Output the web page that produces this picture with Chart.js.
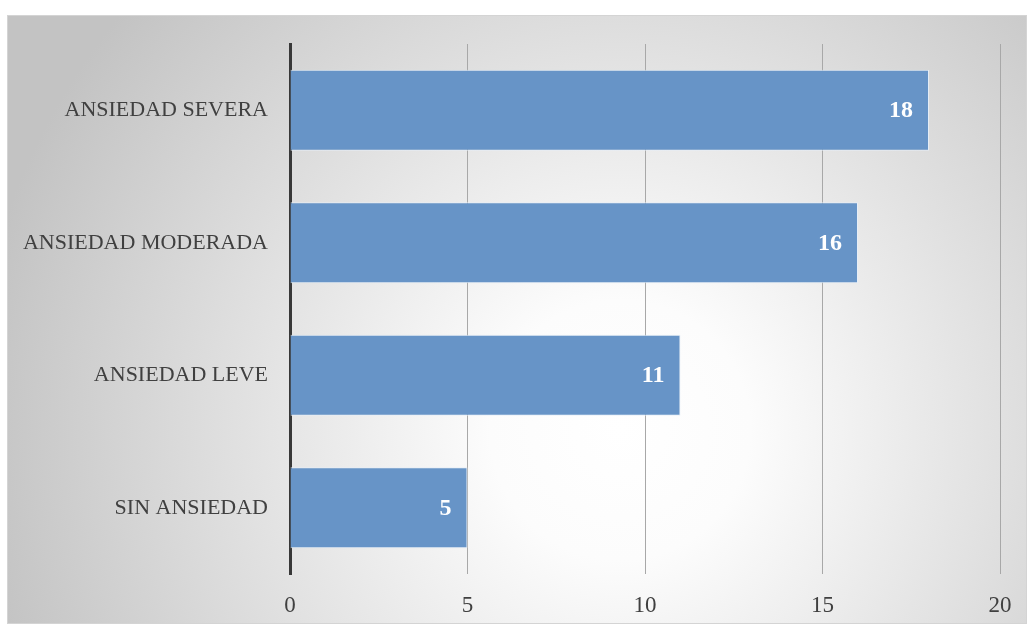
<!DOCTYPE html>
<html>
<head>
<meta charset="utf-8">
<script src="https://cdn.jsdelivr.net/npm/chart.js@4/dist/chart.umd.min.js"></script>
<style>
  html, body { margin: 0; padding: 0; background: #ffffff; }
  #wrap { position: relative; width: 1030px; height: 626px; }
</style>
</head>
<body>
<div id="wrap"><canvas id="c" width="1030" height="626"></canvas></div>
<script>
const categories = ["ANSIEDAD SEVERA", "ANSIEDAD MODERADA", "ANSIEDAD LEVE", "SIN ANSIEDAD"];
const values = [18, 16, 11, 5];
const xTicks = [0, 5, 10, 15, 20];

const FONT = "'Liberation Serif', 'DejaVu Serif', serif";

const bgPlugin = {
  id: 'bg',
  beforeDraw(chart) {
    const ctx = chart.ctx;
    ctx.save();
    const x0 = 7, y0 = 15, w = 1020, h = 609;
    const g = ctx.createRadialGradient(620, 430, 0, 620, 430, 650);
    g.addColorStop(0, '#ffffff');
    g.addColorStop(0.2, '#fcfcfc');
    g.addColorStop(1, '#c3c3c3');
    ctx.fillStyle = g;
    ctx.fillRect(x0, y0, w, h);
    ctx.strokeStyle = '#d4d4d4';
    ctx.lineWidth = 1;
    ctx.strokeRect(x0 + 0.5, y0 + 0.5, w - 1, h - 1);
    ctx.restore();
  }
};

const labelPlugin = {
  id: 'vlabels',
  afterDatasetsDraw(chart) {
    const ctx = chart.ctx;
    const meta = chart.getDatasetMeta(0);
    ctx.save();
    ctx.fillStyle = '#ffffff';
    ctx.font = "bold 24px " + FONT;
    ctx.textAlign = 'right';
    ctx.textBaseline = 'middle';
    meta.data.forEach((bar, i) => {
      ctx.fillText(String(values[i]), bar.x - 16, bar.y + 1);
    });
    ctx.restore();
  }
};

new Chart(document.getElementById('c'), {
  type: 'bar',
  data: {
    labels: categories,
    datasets: [{
      data: values,
      backgroundColor: '#6794c7',
      borderColor: 'rgba(230,238,248,0.9)',
      borderWidth: 1,
      borderSkipped: 'start',
      categoryPercentage: 1,
      barPercentage: 0.61
    }]
  },
  options: {
    indexAxis: 'y',
    responsive: false,
    animation: false,
    devicePixelRatio: 1,
    layout: { padding: { left: 0, right: 30, top: 44, bottom: 0 } },
    plugins: { legend: { display: false }, tooltip: { enabled: false } },
    scales: {
      x: {
        min: 0, max: 20,
        afterBuildTicks(scale) { scale.ticks = xTicks.map(v => ({ value: v })); },
        afterFit(scale) { scale.height = 52; },
        grid: { color: '#a8a8a8', lineWidth: 1, drawTicks: false },
        border: { display: false },
        ticks: { color: '#404040', font: { family: FONT, size: 23 }, padding: 18 }
      },
      y: {
        afterFit(scale) { scale.width = 290; },
        grid: { display: false, drawTicks: false },
        border: { display: true, color: '#383838', width: 3 },
        ticks: { color: '#404040', font: { family: FONT, size: 22 }, padding: 22 }
      }
    }
  },
  plugins: [bgPlugin, labelPlugin]
});
</script>
</body>
</html>
